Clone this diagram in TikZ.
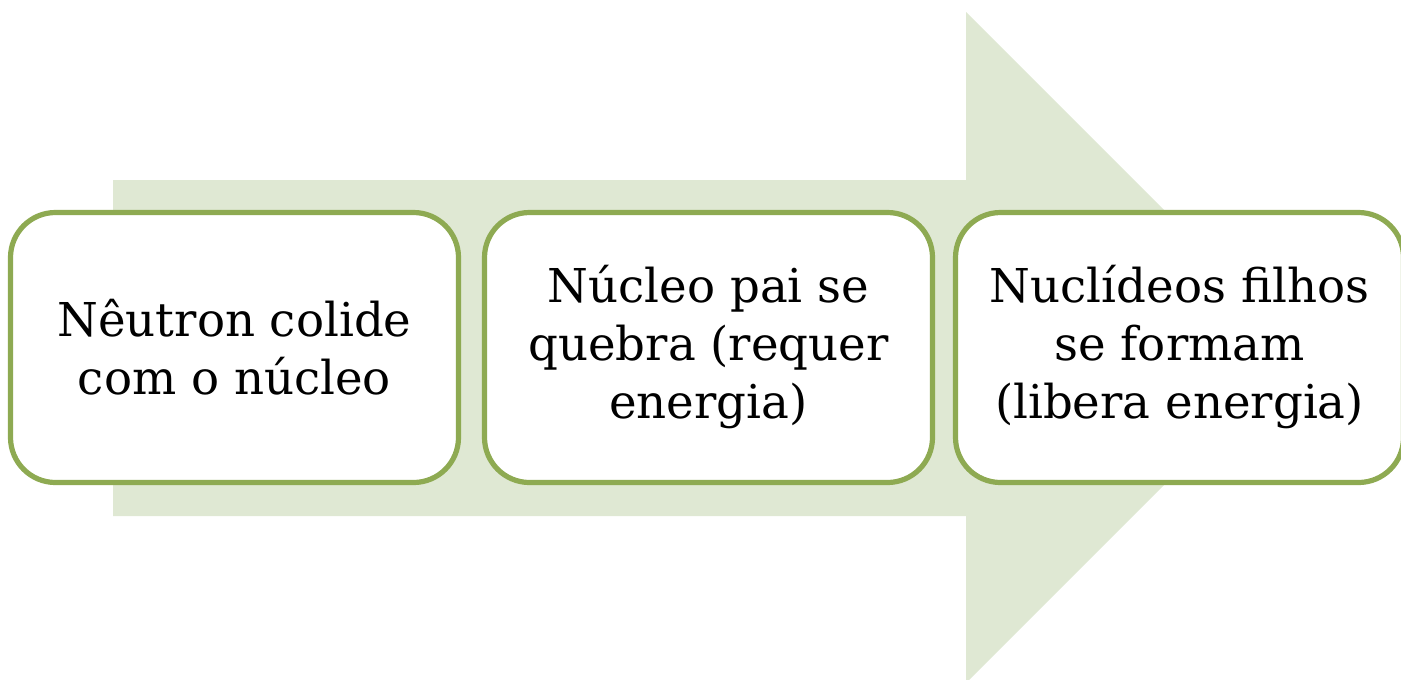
\documentclass[tikz,border=0pt]{standalone}
\usepackage{fontspec}
\setmainfont{DejaVu Serif}
\definecolor{arrowfill}{RGB}{223,232,211}
\definecolor{boxline}{RGB}{142,170,82}
\begin{document}
\begin{tikzpicture}[x=0.75pt,y=-0.75pt,
  stepbox/.style={draw=boxline, line width=3.9pt, fill=white, rounded corners=33.75pt,
    minimum width=336pt, minimum height=202.5pt, align=center, inner sep=0pt,
    font=\fontsize{35}{43.5}\selectfont}]
\useasboundingbox (0,0) rectangle (1401,679);
\clip (0,0) rectangle (1401,679);
\fill[arrowfill] (113,180) -- (966,180) -- (966,12) -- (1301.5,347.5) -- (966,683) -- (966,516) -- (113,516) -- cycle;
\node[stepbox] (a) at (234.5,347.5) {Nêutron colide\\com o núcleo};
\node[stepbox] (b) at (708.5,347.5) {Núcleo pai se\\quebra (requer\\energia)};
\node[stepbox] (c) at (1179.5,347.5) {Nuclídeos filhos\\se formam\\(libera energia)};
\end{tikzpicture}
\end{document}
